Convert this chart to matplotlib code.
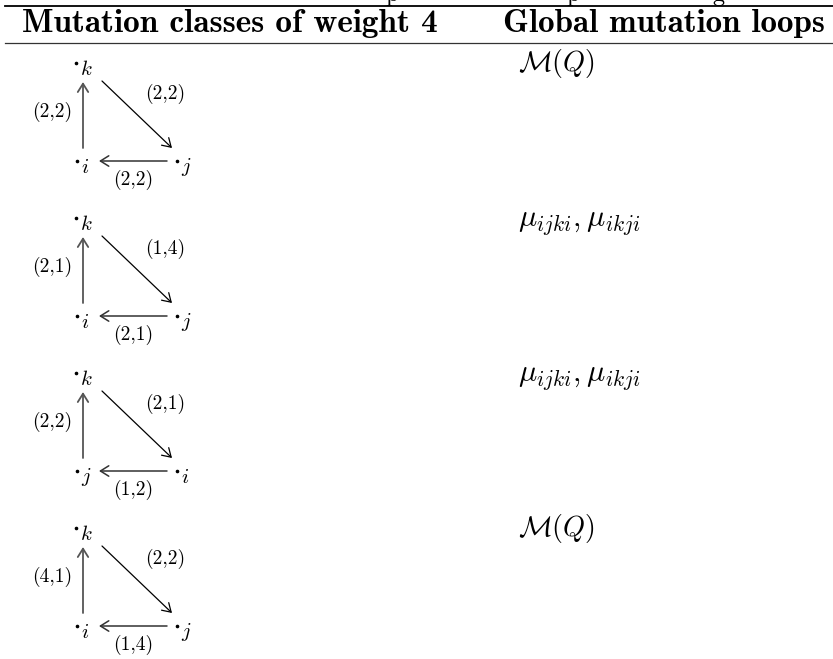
import matplotlib
matplotlib.use("Agg")
import matplotlib.pyplot as plt
from matplotlib.patches import FancyArrowPatch

plt.rcParams['mathtext.fontset'] = 'cm'

# Table content
headers = ["Mutation classes of weight 4", "Global mutation loops"]
bottom_vertices = [("i", "j"), ("i", "j"), ("j", "i"), ("i", "j")]
left_weights = ["(2,2)", "(2,1)", "(2,2)", "(4,1)"]
diag_weights = ["(2,2)", "(1,4)", "(2,1)", "(2,2)"]
bottom_weights = ["(2,2)", "(2,1)", "(1,2)", "(1,4)"]
loops = [r"$\mathcal{M}(Q)$", r"$\mu_{ijki}, \mu_{ikji}$",
         r"$\mu_{ijki}, \mu_{ikji}$", r"$\mathcal{M}(Q)$"]

ROW_STEP = 155


def fit_text(ax, renderer, x, y, s, width, **kw):
    # scale the font so the text spans the measured width
    t = ax.text(x, y, s, fontsize=10, **kw)
    w = t.get_window_extent(renderer).width
    t.set_fontsize(10 * width / w)
    return t


def arrow(ax, p0, p1, color, lw=1.0):
    a = FancyArrowPatch(p0, p1, arrowstyle="->,head_length=4,head_width=2.5",
                        color=color, lw=lw, shrinkA=0, shrinkB=0,
                        mutation_scale=1.5)
    ax.add_patch(a)


def vertex(ax, x, y, name):
    ax.plot([x - 4], [y - 6], marker="o", ms=1.6, color="black")
    ax.text(x, y, "$" + name + "$", fontsize=15, ha="left", va="center")


def main():
    fig = plt.figure(figsize=(8.33, 6.59), dpi=100)
    ax = fig.add_axes([0, 0, 1, 1])
    ax.set_xlim(0, 833)
    ax.set_ylim(659, 0)
    ax.axis("off")
    renderer = fig.canvas.get_renderer()

    # caption of the table, cut by the top edge in the reference
    for x, ch in [(385, "p"), (566, "p"), (712, "g")]:
        ax.text(x, 0.5, ch, fontfamily="cmr10", fontsize=17.5,
                ha="left", va="baseline")

    # rules
    ax.plot([5, 833], [6, 6], color="black", lw=1.3)
    ax.plot([5, 833], [43, 43], color="#333333", lw=0.9)

    fit_text(ax, renderer, 22, 32, headers[0], 415, fontfamily="cmb10",
             ha="left", va="baseline")
    fit_text(ax, renderer, 503, 32, headers[1], 320, fontfamily="cmb10",
             ha="left", va="baseline")

    for r in range(4):
        dy = ROW_STEP * r
        vertex(ax, 80, 69 + dy, "k")
        vertex(ax, 81, 167 + dy, bottom_vertices[r][0])
        vertex(ax, 181, 167 + dy, bottom_vertices[r][1])

        arrow(ax, (83, 148 + dy), (83, 82 + dy), "#555555", 1.3)
        arrow(ax, (102, 81 + dy), (172, 148 + dy), "black", 0.9)
        arrow(ax, (167, 161 + dy), (99, 161 + dy), "#333333", 1.1)

        ax.text(52, 112 + dy, left_weights[r], fontfamily="cmr10",
                fontsize=14, ha="center", va="center")
        ax.text(165, 94 + dy, diag_weights[r], fontfamily="cmr10",
                fontsize=14, ha="center", va="center")
        ax.text(133, 180 + dy, bottom_weights[r], fontfamily="cmr10",
                fontsize=14, ha="center", va="center")

        width = 79 if "M" in loops[r] else 125
        fit_text(ax, renderer, 518, 71 + dy, loops[r], width,
                 ha="left", va="baseline")

    fig.savefig("out.png", dpi=100)


if __name__ == "__main__":
    main()
